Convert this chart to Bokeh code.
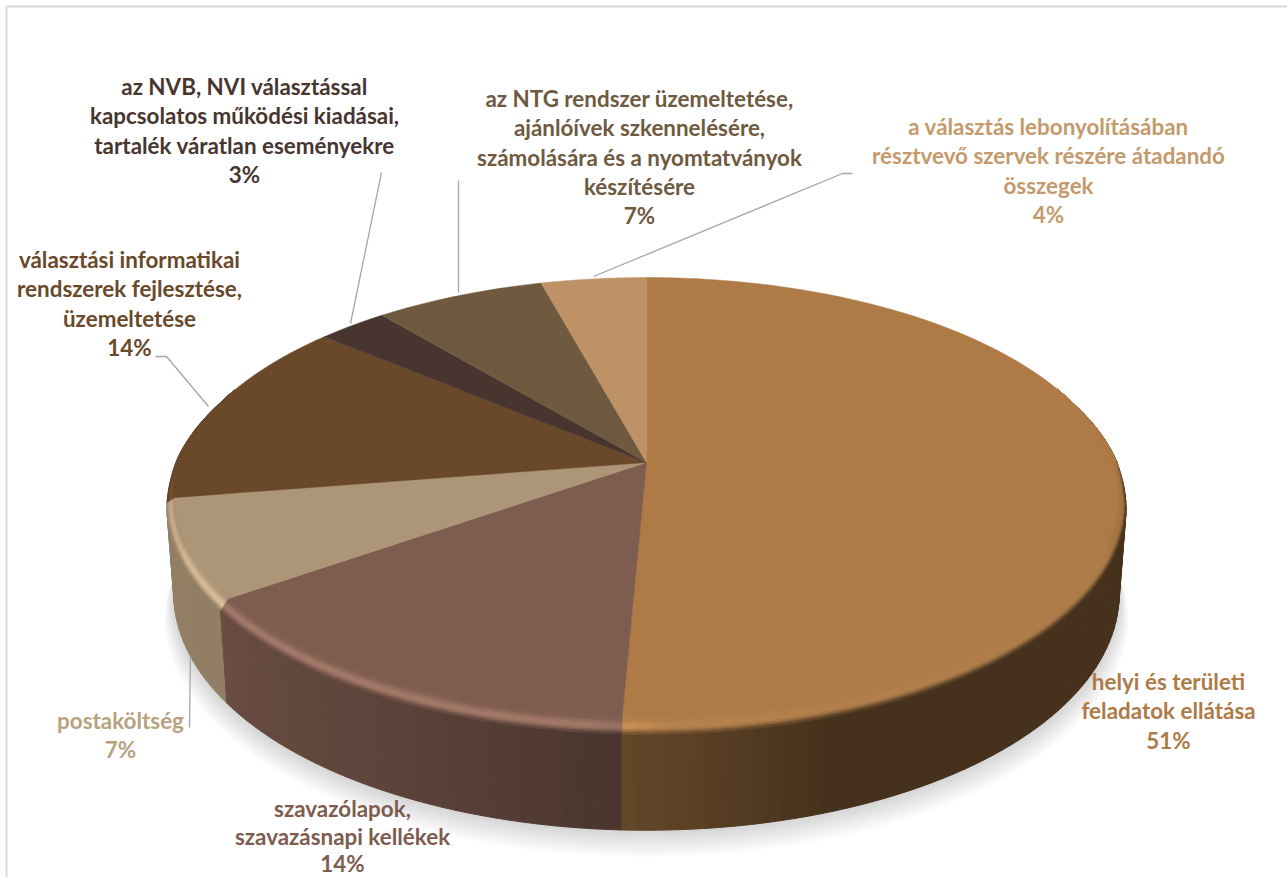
import numpy as np
from bokeh.plotting import figure
from bokeh.models import ColumnDataSource, Range1d
from bokeh.core.properties import value
from bokeh.embed import file_html
from bokeh.resources import INLINE

# ---- data ----
categories = ["helyi és területi feladatok ellátása", "szavazólapok, szavazásnapi kellékek",
              "postaköltség", "választási informatikai rendszerek fejlesztése, üzemeltetése",
              "az NVB, NVI választással kapcsolatos működési kiadásai, tartalék váratlan eseményekre",
              "az NTG rendszer üzemeltetése, ajánlóívek szkennelésére, számolására és a nyomtatványok készítésére",
              "a választás lebonyolításában résztvevő szervek részére átadandó összegek"]
printed_percent = [51, 14, 7, 14, 3, 7, 4]
slice_shares = [50.7, 14.5, 7.25, 13.75, 2.8, 6.8, 4.2]   # as drawn on the picture
top_colors = ["#AE7B47", "#7E5C4F", "#AD9677", "#6A492B", "#48352F", "#6F5A3F", "#BE9266"]
text_colors = ["#AE7B47", "#7E5C4F", "#B8A27F", "#6A492B", "#48352F", "#6F5A3F", "#C49A6C"]
label_lines = [
    ["helyi és területi", "feladatok ellátása"],
    ["szavazólapok,", "szavazásnapi kellékek"],
    ["postaköltség"],
    ["választási informatikai", "rendszerek fejlesztése,", "üzemeltetése"],
    ["az NVB, NVI választással", "kapcsolatos működési kiadásai,", "tartalék váratlan eseményekre"],
    ["az NTG rendszer üzemeltetése,", "ajánlóívek szkennelésére,", "számolására és a nyomtatványok", "készítésére"],
    ["a választás lebonyolításában", "résztvevő szervek részére átadandó", "összegek"],
]

# ---- layout (page pixels) ----
W, H = 1287, 877
OFF = 8
CX, CY, RX, RY, K = 646.0, 462.0, 466.0, 214.4, 0.159
BOTTOM_SCALE = 0.985
label_x = [1168, 342, 120, 129, 244, 639, 1048]
label_y0 = [681, 808, 720, 259, 86, 98, 126]
label_line_h = [29.3, 27.5, 29.3, 29.3, 29.3, 29.3, 29.3]
FONT_PX = "22.4px"
leaders = [
    ([189, 190], [727, 655]),
    ([155, 166, 208], [356, 356, 406]),
    ([381, 350], [172, 323]),
    ([458, 458], [180, 292]),
    ([852, 842, 593], [173, 173, 276]),
]


def flat(t_deg):
    """Flat upper face: perspective view of the unit circle."""
    t = np.radians(np.asarray(t_deg, dtype=float))
    u, v = np.sin(t), np.cos(t)
    w = 1 + K * v
    return CX + RX * u / w, CY - RY * v / w, v


def outer(t_deg):
    """Outer rim: the flat face grown a little and dropped towards the viewer."""
    x, y, v = flat(t_deg)
    grow = 0.017 * np.clip((0.3 - v) / 0.5, 0, 1)
    drop = 12.5 * np.clip(-v, 0, 1) ** 0.6
    return CX + (x - CX) * (1 + grow), CY + (y - CY) * (1 + grow) + drop, v


def depth(v):
    return 89 - 7 * np.asarray(v)


def rgb(h):
    return np.array([int(h[i:i + 2], 16) for i in (1, 3, 5)], dtype=float)


def hexc(c):
    c = np.clip(c, 0, 255).astype(int)
    return "#%02x%02x%02x" % tuple(c)


def shade(t):
    return np.interp(t, [0, 160, 182, 205, 235, 262, 360], [.40, .40, .58, .73, .84, .86, .86])


def hilite(t):
    return np.interp(t, [90, 178, 186, 230, 262, 276], [.95, 1.05, 1.3, 1.3, 1.15, 1.0])


edges = np.concatenate([[0], np.cumsum(slice_shares)]) / sum(slice_shares) * 360

p = figure(width=W + OFF, height=H + OFF, x_range=Range1d(-OFF, W), y_range=Range1d(H, -OFF),
           toolbar_location=None, output_backend="svg", min_border=0,
           margin=(-OFF, -OFF, -OFF, -OFF), outline_line_color=None, background_fill_color="white")
p.axis.visible = False
p.grid.visible = False

# chart frame
p.line([6, 6, W], [H, 6, 6], line_color="#D9D9D9", line_width=2)

# soft shadow under the pie
circle = np.linspace(0, 360, 361)
ox, oy, ov = outer(circle)
for i in range(9):
    g = 1 + 0.0025 * i
    p.patch(CX + (ox - CX) * BOTTOM_SCALE * g, CY + (oy - CY) * g + depth(ov) + 2.6 * i,
            fill_color="black", fill_alpha=0.02, line_color=None)

# side wall, top faces, bevel
walls = []
bx, by, bc = [], [], []
tx, ty, tc = [], [], []
NLEV = 8
for i, col in enumerate(top_colors):
    a, b = edges[i], edges[i + 1]
    base = rgb(col)
    n = int(np.ceil((b - a) / 1.5))
    ts = np.linspace(a, b, n + 1)
    fx, fy, v = flat(ts)
    ox, oy, _ = outer(ts)
    lx = CX + (ox - CX) * BOTTOM_SCALE
    tx.append(np.r_[CX, fx].tolist())
    ty.append(np.r_[CY, fy].tolist())
    tc.append(col)
    for j in range(n):
        tm = 0.5 * (ts[j] + ts[j + 1])
        vm = np.cos(np.radians(tm))
        if vm > 0.35:
            continue
        wall = base * shade(tm)
        yb0, yb1 = oy[j] + depth(v[j]), oy[j + 1] + depth(v[j + 1])
        walls.append((vm, [ox[j], ox[j + 1], lx[j + 1], lx[j]], [oy[j], oy[j + 1], yb1, yb0], hexc(wall)))
        weight = np.clip((0.02 - vm) / 0.12, 0, 1)
        hl = base * hilite(tm)
        for k in range(NLEV):
            s0, s1 = k / NLEV, (k + 1) / NLEV
            s = 0.5 * (s0 + s1)
            if s < 0.6:
                c = base + (hl - base) * np.sin(s / 0.6 * np.pi / 2) ** 2
            else:
                c = hl + (wall - hl) * ((s - 0.6) / 0.4) ** 1.5
            bx.append([fx[j] + (ox[j] - fx[j]) * s0, fx[j + 1] + (ox[j + 1] - fx[j + 1]) * s0,
                       fx[j + 1] + (ox[j + 1] - fx[j + 1]) * s1, fx[j] + (ox[j] - fx[j]) * s1])
            by.append([fy[j] + (oy[j] - fy[j]) * s0, fy[j + 1] + (oy[j + 1] - fy[j + 1]) * s0,
                       fy[j + 1] + (oy[j + 1] - fy[j + 1]) * s1, fy[j] + (oy[j] - fy[j]) * s1])
            bc.append(hexc(base * (1 - weight) + c * weight))

walls.sort(key=lambda q: -q[0])
p.patches("x", "y", source=ColumnDataSource(dict(x=[q[1] for q in walls], y=[q[2] for q in walls],
                                                  c=[q[3] for q in walls])),
          fill_color="c", line_color="c", line_width=1)
p.patches("x", "y", source=ColumnDataSource(dict(x=tx, y=ty, c=tc)),
          fill_color="c", line_color="c", line_width=0.5)
p.patches("x", "y", source=ColumnDataSource(dict(x=bx, y=by, c=bc)),
          fill_color="c", line_color="c", line_width=0.6)

# leader lines
for lx2, ly2 in leaders:
    p.line(lx2, ly2, line_color="#A6A6A6", line_width=1.3)

# labels
xs, ys, texts, cols = [], [], [], []
for i, lines in enumerate(label_lines):
    for j, s in enumerate(lines + [f"{printed_percent[i]}%"]):
        xs.append(label_x[i])
        ys.append(label_y0[i] + j * label_line_h[i])
        texts.append(s)
        cols.append(text_colors[i])
p.text(xs, ys, text=texts, text_color=cols, text_align="center", text_baseline="middle",
       text_font=value("Lato"), text_font_style="bold", text_font_size=FONT_PX)

open("out.html", "w").write(file_html(p, INLINE))
